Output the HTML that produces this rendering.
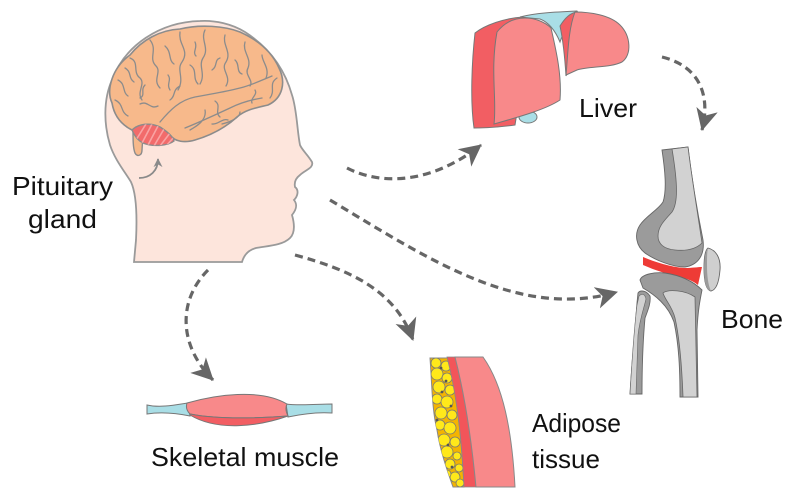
<!DOCTYPE html>
<html>
<head>
<meta charset="utf-8">
<style>
html,body{margin:0;padding:0;background:#fff;}
svg{display:block;}
text{font-family:"Liberation Sans",sans-serif;fill:#111;font-size:26px;}
</style>
</head>
<body>
<svg width="800" height="502" viewBox="0 0 800 502" xmlns="http://www.w3.org/2000/svg">
<defs>
  <marker id="ah" viewBox="0 0 22 22" refX="21" refY="11" markerWidth="22" markerHeight="22" markerUnits="userSpaceOnUse" orient="auto">
    <path d="M0,0 L22,11 L0,22 L6,11 Z" fill="#666"/>
  </marker>
  <marker id="ahs" viewBox="0 0 10 10" refX="9" refY="5" markerWidth="9" markerHeight="9" markerUnits="userSpaceOnUse" orient="auto">
    <path d="M0,0 L10,5 L0,10 L3,5 Z" fill="#8a8a8a"/>
  </marker>
  <clipPath id="fatclip">
    <path d="M430,358 L448,358 C458,400 462,445 464,487 L453,487 C447,470 440,450 437,430 C432,410 432,385 430,358 Z"/>
  </clipPath>
  <clipPath id="cbclip">
    <path d="M132,130 C138,124 150,122 160,127 C168,132 173,137 174,141 C168,146 152,147 143,143 C137,140 134,135 132,130 Z"/>
  </clipPath>
</defs>

<!-- HEAD -->
<path d="M200,21 C160,22 125,45 112,80 C103,100 104,125 110,145 C115,160 125,172 131,182 C137,195 137,220 136,240 L134,262 L242,262 C244,255 248,250 256,248 C265,246 282,246 290,238 C296,232 294,222 292,215 C296,210 298,205 294,200 C298,196 299,190 295,187 C294,182 296,178 300,175 C305,170 314,168 312,162 C308,155 302,150 300,145 C297,130 297,110 292,95 C285,70 270,48 245,32 C232,24 215,20 200,21 Z" fill="#fde5dc" stroke="#9a9a9a" stroke-width="1.8"/>

<!-- brain stem -->
<path d="M133,128 C133,140 133,148 135,153 C137,157 142,156 142,150 L143,134 Z" fill="#f7b98b" stroke="#8c8c8c" stroke-width="1.4"/>
<!-- brain -->
<path d="M112,103 C106,90 112,68 130,55 C142,40 160,30 180,29 C200,24 225,26 240,32 C258,40 272,52 279,68 C286,82 283,98 268,105 C255,108 245,110 237,117 C225,128 212,135 195,140 C185,143 175,142 170,135 L160,128 C150,125 140,127 132,130 C120,124 114,115 112,103 Z" fill="#f7b98b" stroke="#8c8c8c" stroke-width="1.6"/>
<!-- cerebellum -->
<path d="M132,130 C138,124 150,122 160,127 C168,132 173,137 174,141 C168,146 152,147 143,143 C137,140 134,135 132,130 Z" fill="#f26b6b" stroke="#8c8c8c" stroke-width="1.4"/>
<g clip-path="url(#cbclip)" stroke="#f9a3a3" stroke-width="1.6" fill="none">
  <path d="M136,140 L146,124"/><path d="M142,143 L152,124"/><path d="M148,145 L158,126"/><path d="M154,146 L164,129"/><path d="M160,146 L170,133"/><path d="M166,146 L174,137"/>
</g>
<!-- gyri -->
<g fill="none" stroke="#8c8c8c" stroke-width="1.3" stroke-linecap="round">
  <path d="M160,122 C170,110 180,100 195,97 C210,94 225,92 240,88 C252,85 262,80 272,76"/>
  <path d="M185,128 C200,122 215,115 230,108 C240,103 250,100 262,98"/>
  <path d="M205,30 C200,40 210,48 203,58 C198,66 206,74 200,84"/>
  <path d="M180,32 C178,45 190,50 182,62 C176,70 185,78 178,90"/>
  <path d="M150,40 C158,50 148,58 156,66 C162,72 152,80 160,88"/>
  <path d="M130,58 C140,62 132,72 140,78 C146,84 136,92 142,100"/>
  <path d="M118,80 C126,84 122,92 128,96"/>
  <path d="M115,100 C124,104 120,112 128,116"/>
  <path d="M225,35 C222,45 232,52 226,62 C220,70 232,76 226,86"/>
  <path d="M245,42 C242,52 252,58 248,68 C244,75 254,80 250,86"/>
  <path d="M262,55 C262,62 270,68 266,78"/>
  <path d="M277,78 C268,84 276,90 270,98"/>
  <path d="M240,112 C240,118 230,122 222,124"/>
  <path d="M205,110 C207,120 197,126 190,130"/>
  <path d="M215,101 C222,106 214,112 220,117"/>
  <path d="M165,46 C172,52 168,60 174,64"/>
  <path d="M190,65 C198,70 192,78 198,84"/>
  <path d="M125,68 C132,72 128,78 134,82"/>
  <path d="M140,104 C148,100 150,110 158,106"/>
  <path d="M170,100 C176,96 172,90 180,86"/>
  <path d="M212,70 C218,66 214,60 220,58"/>
  <path d="M235,60 C240,64 236,72 242,74"/>
  <path d="M255,90 C258,95 250,98 252,103"/>
  <path d="M168,75 C172,80 166,84 170,90"/>
  <path d="M145,85 C140,90 146,95 140,98"/>
  <path d="M195,42 C198,48 192,52 196,56"/>
  <path d="M228,120 C222,118 218,125 212,124"/>
</g>
<!-- pituitary pointer -->
<path d="M139,178 C150,178 158,171 158,159" fill="none" stroke="#8a8a8a" stroke-width="1.8" marker-end="url(#ahs)"/>

<!-- LIVER -->
<path d="M520,17 C535,13 555,12 577,11 L580,16 C570,24 563,32 560,42 C555,30 548,22 540,19 Z" fill="#a9dee6" stroke="#777" stroke-width="1"/>
<ellipse cx="528" cy="117" rx="9" ry="6" fill="#a9dee6" stroke="#777" stroke-width="1"/>
<path d="M475,33 C485,25 505,18 523,17 L530,30 L515,125 C500,127 485,128 474,128 C470,100 472,60 475,33 Z" fill="#f25e63" stroke="#777" stroke-width="1"/>
<path d="M560,26 C565,18 570,13 577,12 L580,40 L566,76 C565,60 563,40 560,26 Z" fill="#f25e63" stroke="#777" stroke-width="1"/>
<path d="M575,12 C590,12 610,15 620,25 C631,36 632,55 622,62 C610,68 590,66 577,70 L566,75 C568,55 568,30 575,12 Z" fill="#f8898a" stroke="#777" stroke-width="1"/>
<path d="M497,32 C505,22 515,18 525,18 C535,18 545,22 551,28 C556,50 562,75 560,100 C545,110 515,118 494,124 C497,100 490,70 497,32 Z" fill="#f8898a" stroke="#777" stroke-width="1"/>
<path d="M497,32 C493,60 490,80 497,90" fill="none" stroke="#777" stroke-width="0"/>

<!-- BONE -->
<path d="M662,150 L688,147 C692,180 698,215 703,240 C705,255 698,265 685,267 C672,267 655,260 645,253 C636,246 634,234 640,225 C646,216 658,210 663,202 C667,190 665,170 662,150 Z" fill="#9b9b9b" stroke="#666" stroke-width="0.9"/>
<path d="M672,149 L688,147 C692,180 698,215 702,243 C695,250 685,251 675,250 C664,249 658,244 658,236 C658,226 665,220 672,212 C678,203 678,185 672,149 Z" fill="#d2d2d2" stroke="#666" stroke-width="0.8"/>
<path d="M643,257 C655,262 670,267 685,268 C692,268 698,267 702,267 L698,285 C692,280 685,278 672,275 C660,272 650,268 643,265 Z" fill="#ee3b36"/>
<path d="M708,248 C716,250 721,258 720,270 C719,282 716,290 711,291 C706,290 704,282 704,268 C704,258 705,250 708,248 Z" fill="#cfcfcf" stroke="#666" stroke-width="0.9"/>
<path d="M708,248 C705,252 704,260 704,268 C704,282 706,290 711,291 C708,285 707,275 707,266 C707,258 707,252 708,248 Z" fill="#9b9b9b"/>
<path d="M640,280 C642,274 655,272 665,273 C678,275 692,280 702,290 C700,300 698,310 697,330 L698,397 L680,397 C680,370 679,345 674,322 C668,305 655,295 643,288 Z" fill="#9b9b9b" stroke="#666" stroke-width="0.9"/>
<path d="M663,293 C668,289 685,290 695,297 L697,397 L683,397 C682,370 680,340 675,318 C672,306 665,300 663,293 Z" fill="#d2d2d2" stroke="#666" stroke-width="0.8"/>
<path d="M638,293 C640,290 646,290 650,296 C651,303 648,310 645,318 C643,340 642,370 642,394 L630,394 C632,360 635,330 637,303 Z" fill="#9b9b9b" stroke="#666" stroke-width="0.9"/>
<path d="M639,296 C642,293 645,294 646,299 C644,308 640,318 638,335 L636,394 L630,394 C632,360 634,330 637,305 Z" fill="#d2d2d2" stroke="#666" stroke-width="0.6"/>

<!-- SKELETAL MUSCLE -->
<path d="M147,405 C160,408 175,405 188,403 L190,416 C175,413 160,412 147,414 Z" fill="#a9dee6" stroke="#777" stroke-width="1"/>
<path d="M286,404 C300,406 318,404 332,404 L332,413 C318,412 302,414 288,417 Z" fill="#a9dee6" stroke="#777" stroke-width="1"/>
<path d="M187,403 C215,395 260,388 287,404 C285,408 286,412 288,416 C260,418 220,420 190,414 C186,410 186,406 187,403 Z" fill="#f8898a" stroke="#777" stroke-width="1"/>
<path d="M190,414 C220,420 260,418 288,416 C260,426 218,432 190,415 Z" fill="#f25e63" stroke="#777" stroke-width="1"/>

<!-- ADIPOSE -->
<path d="M430,358 L448,358 C458,400 462,445 464,487 L453,487 C447,470 440,450 437,430 C432,410 432,385 430,358 Z" fill="#f4b400" stroke="#888" stroke-width="1"/>
<g clip-path="url(#fatclip)" fill="#ffe81a" stroke="#777" stroke-width="0.8">
  <circle cx="436" cy="363" r="5"/><circle cx="446" cy="366" r="5"/><circle cx="437" cy="374" r="6"/><circle cx="447" cy="378" r="5"/>
  <circle cx="439" cy="387" r="6"/><circle cx="450" cy="390" r="5"/><circle cx="437" cy="399" r="5"/><circle cx="447" cy="402" r="6"/>
  <circle cx="441" cy="413" r="6"/><circle cx="452" cy="415" r="5"/><circle cx="440" cy="425" r="5"/><circle cx="450" cy="428" r="6"/>
  <circle cx="444" cy="440" r="6"/><circle cx="455" cy="442" r="5"/><circle cx="447" cy="452" r="6"/><circle cx="457" cy="456" r="4"/>
  <circle cx="450" cy="464" r="5"/><circle cx="459" cy="468" r="4"/><circle cx="455" cy="477" r="5"/><circle cx="447" cy="474" r="4"/><circle cx="460" cy="483" r="4"/>
</g>
<g fill="#555" clip-path="url(#fatclip)">
  <circle cx="441" cy="368" r="1.4"/><circle cx="442" cy="392" r="1.4"/><circle cx="451" cy="406" r="1.4"/><circle cx="437" cy="420" r="1.4"/>
  <circle cx="448" cy="445" r="1.4"/><circle cx="452" cy="467" r="1.4"/><circle cx="446" cy="381" r="1.4"/>
</g>
<path d="M447,357 L455,357 C466,400 472,445 476,487 L464,487 C462,445 458,400 447,357 Z" fill="#f2555a" stroke="#888" stroke-width="0.8"/>
<path d="M455,357 L483,357 C503,385 512,430 515,487 L476,487 C472,445 466,400 455,357 Z" fill="#f8898a" stroke="#888" stroke-width="1"/>

<!-- ARROWS -->
<g fill="none" stroke="#666" stroke-width="3.2" stroke-dasharray="8 5">
  <path d="M347,168 C380,185 430,185 481,145" marker-end="url(#ah)"/>
  <path d="M330,200 C430,260 520,320 617,292" marker-end="url(#ah)"/>
  <path d="M295,255 C350,270 395,290 413,340" marker-end="url(#ah)"/>
  <path d="M208,270 C178,300 178,345 213,380" marker-end="url(#ah)"/>
  <path d="M662,57 C695,65 712,90 702,130" marker-end="url(#ah)"/>
</g>

<!-- LABELS -->
<text x="12" y="195" textLength="101" lengthAdjust="spacingAndGlyphs">Pituitary</text>
<text x="28" y="228" textLength="69" lengthAdjust="spacingAndGlyphs">gland</text>
<text x="579" y="117" textLength="58" lengthAdjust="spacingAndGlyphs">Liver</text>
<text x="721" y="328" textLength="62" lengthAdjust="spacingAndGlyphs">Bone</text>
<text x="151" y="466" textLength="188" lengthAdjust="spacingAndGlyphs">Skeletal muscle</text>
<text x="532" y="432" textLength="89" lengthAdjust="spacingAndGlyphs">Adipose</text>
<text x="532" y="468" textLength="68" lengthAdjust="spacingAndGlyphs">tissue</text>
</svg>
</body>
</html>
